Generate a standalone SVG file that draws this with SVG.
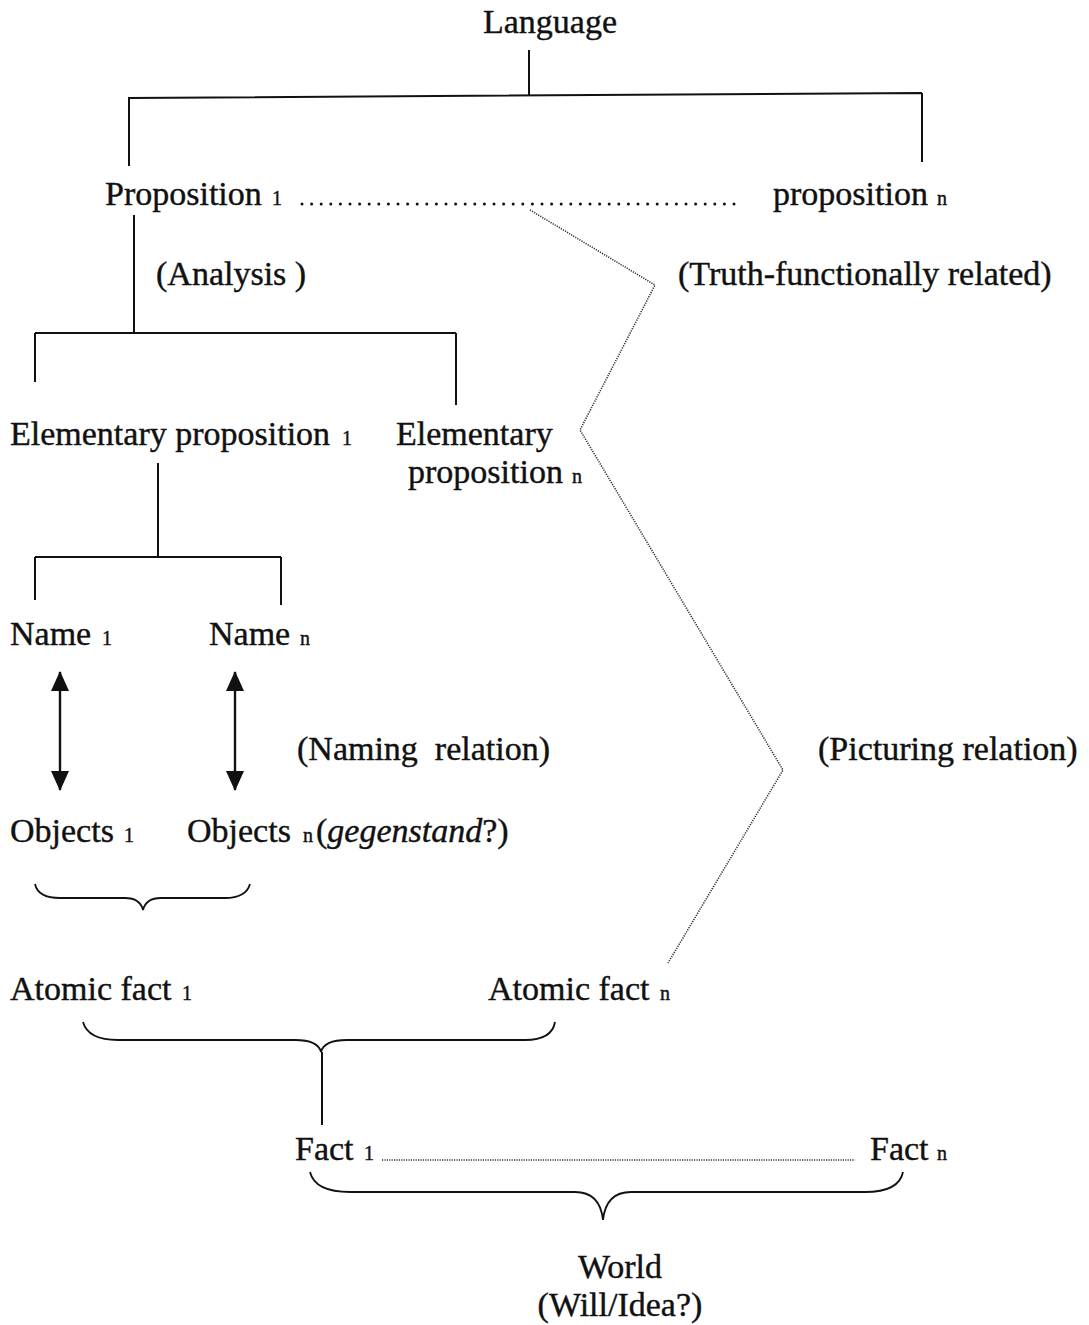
<svg xmlns="http://www.w3.org/2000/svg" width="1089" height="1325" viewBox="0 0 1089 1325">
<style>
text{font-family:"Liberation Serif","Times New Roman",serif;font-size:34px;fill:#111;stroke:#111;stroke-width:0.4;white-space:pre}
.sub{font-size:20px}
.ln{stroke:#111;stroke-width:2;fill:none}
.br{stroke:#111;stroke-width:1.8;fill:none}
.dots{stroke:#111;stroke-width:3;stroke-linecap:round;stroke-dasharray:0 9.6;fill:none}
.fine{stroke:#333;stroke-width:1.6;stroke-dasharray:1.2 1.2;fill:none}
.arr{stroke:#111;stroke-width:2.4;marker-start:url(#ah);marker-end:url(#ah)}
</style>
<defs>
<marker id="ah" viewBox="0 0 20 20" refX="19" refY="10" markerWidth="20" markerHeight="18" markerUnits="userSpaceOnUse" orient="auto-start-reverse" preserveAspectRatio="none">
<path d="M0,0 L20,10 L0,20 Z" fill="#111"/>
</marker>
</defs>
<rect width="1089" height="1325" fill="#fff"/>
<g id="connectors">
<path class="ln" d="M529,50 V95 M129,98 L922,93 M129,97 V166 M922,93 V162"/>
<line class="dots" x1="302" y1="204" x2="735" y2="204"/>
<path class="ln" d="M134,215 V333 M35,333 H456 M35,333 V382 M456,333 V405"/>
<path class="ln" d="M158,463 V557 M35,557 H281 M35,557 V600 M281,557 V605"/>
<path class="fine" d="M530,210 L655,285 L580,430 L783,770 L668,963"/>
<line class="arr" x1="60" y1="672" x2="60" y2="790"/>
<line class="arr" x1="235" y1="672" x2="235" y2="790"/>
<path class="br" d="M35,884 Q38,898 60,898 H125 Q140,898 143,910 Q146,898 161,898 H225 Q246,898 250,884"/>
<path class="br" d="M83,1022 Q88,1040 118,1040 H295 Q318,1040 321,1052 Q324,1040 347,1040 H525 Q552,1040 555,1022"/>
<path class="ln" d="M322,1052 V1125"/>
<line class="fine" x1="382" y1="1160" x2="855" y2="1160"/>
<path class="br" d="M310,1172 Q315,1192 350,1192 H575 Q600,1192 603,1220 Q606,1192 631,1192 H865 Q899,1192 903,1172"/>
</g>
<g id="language"><text x="483" y="33">Language</text></g>
<g id="proposition1"><text x="105" y="205">Proposition<tspan class="sub" x="272">1</tspan></text></g>
<g id="propositionN"><text x="773" y="205">proposition<tspan class="sub" x="937">n</tspan></text></g>
<g id="analysis"><text x="156" y="285">(Analysis )</text></g>
<g id="truth"><text x="678" y="285">(Truth-functionally related)</text></g>
<g id="elem1"><text x="10" y="445">Elementary proposition<tspan class="sub" x="342">1</tspan></text></g>
<g id="elemN"><text x="396" y="445">Elementary</text><text x="408" y="483">proposition<tspan class="sub" x="572">n</tspan></text></g>
<g id="name1"><text x="10" y="645">Name<tspan class="sub" x="102">1</tspan></text></g>
<g id="nameN"><text x="209" y="645">Name<tspan class="sub" x="300">n</tspan></text></g>
<g id="naming"><text x="297" y="760">(Naming  relation)</text></g>
<g id="picturing"><text x="818" y="760">(Picturing relation)</text></g>
<g id="objects1"><text x="10" y="842">Objects<tspan class="sub" x="124">1</tspan></text></g>
<g id="objectsN"><text x="187" y="842">Objects<tspan class="sub" x="303">n</tspan><tspan x="316">(</tspan><tspan font-style="italic">gegenstand</tspan>?)</text></g>
<g id="atomic1"><text x="10" y="1000">Atomic fact<tspan class="sub" x="182">1</tspan></text></g>
<g id="atomicN"><text x="488" y="1000">Atomic fact<tspan class="sub" x="660">n</tspan></text></g>
<g id="fact1"><text x="295" y="1160">Fact<tspan class="sub" x="364">1</tspan></text></g>
<g id="factN"><text x="870" y="1160">Fact<tspan class="sub" x="937">n</tspan></text></g>
<g id="world"><text x="620" y="1278" text-anchor="middle">World</text><text x="620" y="1316" text-anchor="middle">(Will/Idea?)</text></g>
</svg>
